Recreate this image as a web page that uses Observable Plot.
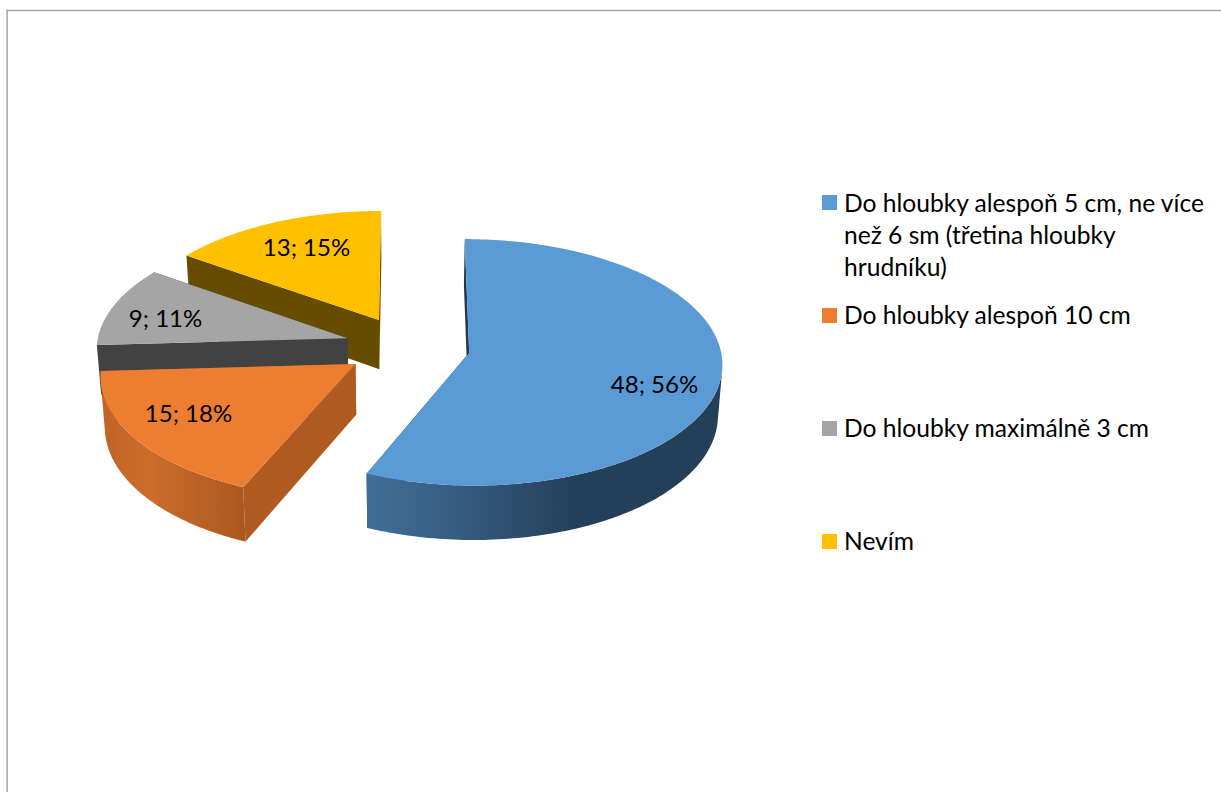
<!DOCTYPE html>
<html lang="cs">
<head>
<meta charset="utf-8">
<title>Hloubka stlačení hrudníku</title>
<script src="https://cdn.jsdelivr.net/npm/d3@7"></script>
<script src="https://cdn.jsdelivr.net/npm/@observablehq/plot@0.6"></script>
<style>
  html, body { margin: 0; padding: 0; background: #fff; }
  svg { display: block; }
</style>
</head>
<body>
<div id="chart"></div>
<script>
// Survey answers
const categories = [
  "Do hloubky alespoň 5 cm, ne více\nnež 6 sm (třetina hloubky\nhrudníku)",
  "Do hloubky alespoň 10 cm",
  "Do hloubky maximálně 3 cm",
  "Nevím"
];
const counts = [48, 15, 9, 13];

// Slice colours: top face, cut face
const topColors = ["#5B9BD5", "#ED7D31", "#A5A5A5", "#FFC000"];
const cutColors = ["#22394F", "#AE5A21", "#424242", "#654C00"];

// Layout of the page
const W = 1221, H = 792;
const labelCentres = [[654, 385], [188, 414], [165, 319], [306, 248]];
const legendRows = [188.7, 300.7, 413.7, 526.7];
const swatchCentres = [202.5, 315.5, 428.5, 541.5];

// Tilted-disc camera
const cam = {cx: 407, cy: 346, rx: 251, ry: 121.5, k: 0.078, depth: 50, shrink: 0.986, explode: 0.25};
const TEXT_FONT = "Lato";

const project = (X, Y, low) => {
  const s = 1 / (1 + cam.k * Y);
  const x = cam.cx + cam.rx * X * s;
  const y = cam.cy - cam.ry * Y * s;
  return low
    ? {x: cam.cx + (x - cam.cx) * cam.shrink, y: y + cam.depth * s}
    : {x, y};
};

const total = d3.sum(counts);
const slices = d3.pie().sort(null)(counts);

const sideFills = [
  "url(#blue-side)", "url(#orange-side)", cutColors[2], cutColors[3]
];

// One slice turned into its polygons, in painting order
function sliceFaces(s, i) {
  const mid = (s.startAngle + s.endAngle) / 2;
  const ox = cam.explode * Math.sin(mid), oy = cam.explode * Math.cos(mid);
  const steps = d3.range(0, 193).map(j => s.startAngle + (s.endAngle - s.startAngle) * j / 192);
  const at = (a, low) => project(ox + Math.sin(a), oy + Math.cos(a), low);
  const rim = low => steps.map(a => at(a, low));
  const apex = low => project(ox, oy, low);
  const edge = a => [apex(false), at(a, false), at(a, true), apex(true)];
  // Only the part of the rim that turns towards the viewer gets a wall
  const facing = steps.filter(a => {
    const p = at(a, false), q = at(a + 0.001, false), v = at(a, true);
    return (q.x - p.x) * (v.y - p.y) - (q.y - p.y) * (v.x - p.x) < 0;
  });
  const wall = facing.length > 1
    ? [{points: [...facing.map(a => at(a, false)), ...facing.map(a => at(a, true)).reverse()], fill: sideFills[i]}]
    : [];
  return [
    {points: edge(s.endAngle), fill: cutColors[i]},
    {points: edge(s.startAngle), fill: cutColors[i]},
    ...wall,
    {points: [apex(false), ...rim(false)], fill: topColors[i]}
  ];
}

// Back slices first, so the nearer ones overlap them
const paintOrder = [3, 2, 1, 0];
const faces = paintOrder.flatMap(i => sliceFaces(slices[i], i));

const labels = counts.map((c, i) => ({
  text: `${c}; ${Math.round(c / total * 100)}%`,
  x: labelCentres[i][0],
  y: labelCentres[i][1]
}));

const legend = categories.map((name, i) => ({
  name,
  color: topColors[i],
  top: legendRows[i],
  swatch: swatchCentres[i]
}));

// Shading along the curved sides
const gradients = () => {
  const defs = d3.create("svg:defs");
  const add = (id, stops) => {
    const g = defs.append("linearGradient")
      .attr("id", id)
      .attr("gradientUnits", "userSpaceOnUse")
      .attr("x1", stops[0][0]).attr("x2", stops[stops.length - 1][0])
      .attr("y1", 0).attr("y2", 0);
    const span = stops[stops.length - 1][0] - stops[0][0];
    for (const [x, c] of stops) {
      g.append("stop").attr("offset", (x - stops[0][0]) / span).attr("stop-color", c);
    }
  };
  add("blue-side", [[367, "#426F97"], [470, "#34597D"], [575, "#243F58"], [725, "#243F58"]]);
  add("orange-side", [[100, "#C06426"], [150, "#CB6D2B"], [244, "#AA5820"]]);
  return defs.node();
};

const chart = Plot.plot({
  width: W,
  height: H,
  margin: 0,
  x: {domain: [0, W], range: [0, W], axis: null},
  y: {domain: [0, H], range: [0, H], axis: null},
  marks: [
    gradients,
    Plot.ruleY([10], {x1: () => 6, x2: () => W, stroke: "#A6A6A6", strokeWidth: 1.5}),
    Plot.ruleX([6.6], {y1: () => 10, y2: () => H, stroke: "#A6A6A6", strokeWidth: 1.5}),
    ...faces.map(f => Plot.line(f.points, {x: "x", y: "y", fill: f.fill, stroke: "none", curve: "linear"})),
    Plot.text(labels, {
      x: "x", y: "y", text: "text",
      fontFamily: TEXT_FONT, fontSize: 24, fill: "#000", textAnchor: "middle"
    }),
    Plot.rect(legend, {
      x1: () => 822, x2: () => 837,
      y1: d => d.swatch - 7.5, y2: d => d.swatch + 7.5,
      fill: "color"
    }),
    Plot.text(legend, {
      x: () => 843.5, y: "top", text: "name",
      fontFamily: TEXT_FONT, fontSize: 24.6, fill: "#000",
      textAnchor: "start", lineAnchor: "top", lineHeight: 32 / 24.6
    })
  ],
  color: {type: "identity"}
});

document.getElementById("chart").append(chart);
</script>
</body>
</html>
